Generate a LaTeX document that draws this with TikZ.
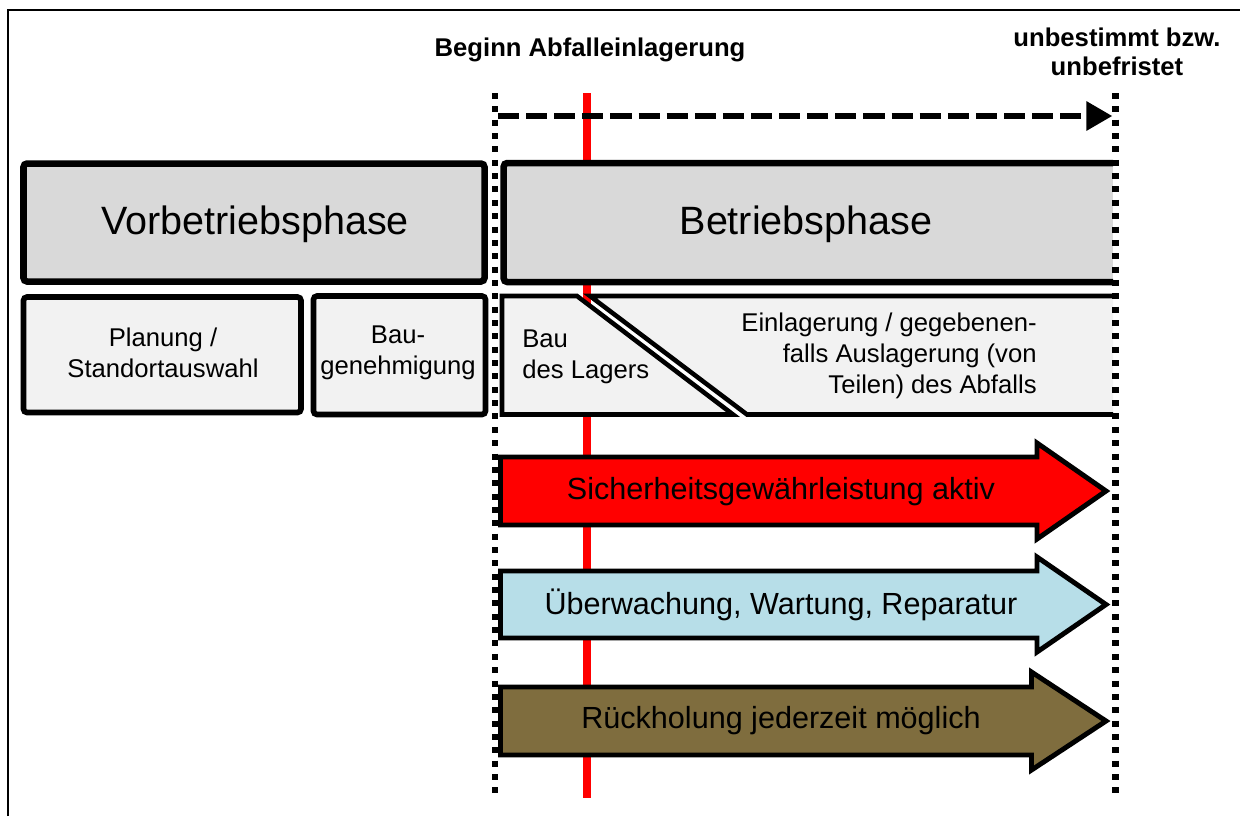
\documentclass[tikz,border=0pt]{standalone}
\usepackage{fontspec}
\setmainfont{Liberation Sans}
\usetikzlibrary{arrows.meta}
\definecolor{phasegray}{HTML}{D9D9D9}
\definecolor{subgray}{HTML}{F2F2F2}
\definecolor{bluearrow}{HTML}{B7DEE8}
\definecolor{brownarrow}{RGB}{127,109,62}
\definecolor{redline}{HTML}{FF0000}
\begin{document}
\begin{tikzpicture}[x=0.02cm,y=-0.02cm,
  bigtxt/.style={font=\fontsize{22.5}{26}\selectfont, inner sep=0pt},
  midtxt/.style={font=\fontsize{14.6}{17.6}\selectfont, align=center, inner sep=0pt},
  hdrtxt/.style={font=\bfseries\fontsize{14.6}{16.6}\selectfont, align=center, inner sep=0pt},
  arrtxt/.style={font=\fontsize{17.4}{20}\selectfont, inner sep=0pt},
  phasebox/.style={line width=3.7pt, rounded corners=2pt},
  subbox/.style={line width=3.2pt, fill=subgray, rounded corners=2pt},
  lagerbox/.style={line width=2.6pt},
  bigarrow/.style={line width=2.8pt, line join=miter},
  dotline/.style={line width=3.6pt, dash pattern=on 3.4pt off 4.2pt},
  timeline/.style={line width=3.8pt, dash pattern=on 12pt off 4pt},
]
\useasboundingbox (0,0) rectangle (1240,816);
% frame
\coordinate (fbl) at (7.8,816);
\coordinate (ftl) at (7.8,10.3);
\coordinate (ftr) at (1240,10.3);
\draw[line width=1.2pt] (fbl) -- (ftl) -- (ftr);
% red line
\coordinate (rtop) at (587,93);
\coordinate (rbot) at (587,798);
\draw[redline, line width=4.6pt] (rtop) -- (rbot);
% phase boxes
\draw[phasebox, fill=phasegray] (23.5,163.5) rectangle (484.5,281.5);
\fill[phasegray] (503.7,163) rectangle (1113,282);
\draw[phasebox] (1113,163) -- (503.7,163) -- (503.7,282) -- (1113,282);
% sub boxes
\draw[subbox] (23.5,297) rectangle (301,412.5);
\draw[subbox] (313.5,296) rectangle (485.5,414.5);
\draw[lagerbox, fill=subgray] (502,296) -- (577,296) -- (733,414.5) -- (502,414.5) -- cycle;
\fill[subgray] (590,296) -- (1113,296) -- (1113,414.5) -- (747,414.5) -- cycle;
\draw[lagerbox] (1113,296) -- (590,296) -- (747,414.5) -- (1113,414.5);
% big arrows
\draw[bigarrow, fill=redline] (500.5,457) -- (1037,457) -- (1037,443) -- (1106,491) -- (1037,539) -- (1037,525) -- (500.5,525) -- cycle;
\draw[bigarrow, fill=bluearrow] (500.5,571) -- (1037,571) -- (1037,557) -- (1106,604.5) -- (1037,652) -- (1037,638) -- (500.5,638) -- cycle;
\draw[bigarrow, fill=brownarrow] (500.5,687) -- (1031.5,687) -- (1031.5,672) -- (1106,721) -- (1031.5,770) -- (1031.5,755) -- (500.5,755) -- cycle;
% dotted lines
\coordinate (ltop) at (495,93);
\coordinate (lbot) at (495,798);
\coordinate (etop) at (1115.5,93);
\coordinate (ebot) at (1115.5,798);
\draw[dotline] (ltop) -- (lbot);
\draw[dotline] (etop) -- (ebot);
% timeline arrow
\coordinate (tstart) at (498,116);
\coordinate (tend) at (1112,116);
\draw[timeline, -{Triangle[length=14.6pt, width=17pt, line width=0pt]}] (tstart) -- (tend);
% texts
\node[hdrtxt] (beginn) at (590,50) {Beginn Abfalleinlagerung};
\node[hdrtxt] (unbest) at (1117,52) {unbestimmt bzw.\\unbefristet};
\node[bigtxt] (vor) at (255,224) {Vorbetriebsphase};
\node[bigtxt] (betr) at (806,224) {Betriebsphase};
\node[midtxt] (plan) at (163,353) {Planung /\\Standortauswahl};
\node[midtxt] (bauge) at (398,353) {Bau-\\genehmigung};
\node[midtxt, align=left, anchor=west] (lager) at (522,357) {Bau\\des Lagers};
\node[midtxt, align=right, anchor=east] (einl) at (1037,356) {Einlagerung / gegebenen-\\falls Auslagerung (von\\Teilen) des Abfalls};
\node[arrtxt] (sich) at (781,492) {Sicherheitsgewährleistung aktiv};
\node[arrtxt] (ueber) at (781,605) {Überwachung, Wartung, Reparatur};
\node[arrtxt] (rueck) at (781,721) {Rückholung jederzeit möglich};
\end{tikzpicture}
\end{document}
